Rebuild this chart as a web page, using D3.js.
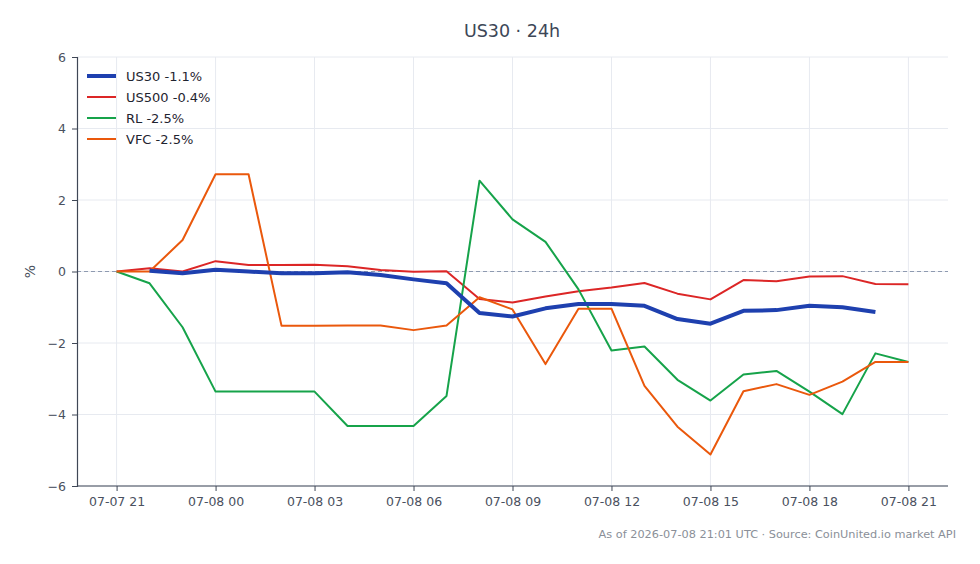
<!DOCTYPE html>
<html>
<head>
<meta charset="utf-8">
<script src="https://cdn.jsdelivr.net/npm/d3@7"></script>
<style>
  body { margin: 0; background: #fff; }
  svg { font-family: "DejaVu Sans", sans-serif; }
</style>
</head>
<body>
<div id="container"></div>
<script>
// hourly points, 07-07 21:00 .. 07-08 21:00 UTC
let startTime = Date.UTC(2026, 6, 7, 21);
let yTicks = [-6, -4, -2, 0, 2, 4, 6];
let names = ["US30", "US500", "RL", "VFC"];
let changes = ["-1.1%", "-0.4%", "-2.5%", "-2.5%"];
let colors = ["#1e40af", "#dc2626", "#16a34a", "#ea580c"];
let widths = [4, 2, 2, 2];

// US30 has no value at the first hour
let us30 = [null, 0.02, -0.05, 0.05, 0.0, -0.05, -0.05, -0.02, -0.1, -0.22, -0.33,
    -1.16, -1.26, -1.03, -0.91, -0.91, -0.96, -1.33, -1.46, -1.10, -1.08, -0.96, -1.0, -1.13];
let us500 = [0, 0.09, 0.0, 0.29, 0.18, 0.18, 0.19, 0.15, 0.04, -0.01, 0.01,
    -0.77, -0.87, -0.70, -0.55, -0.45, -0.32, -0.62, -0.78, -0.24, -0.27, -0.14, -0.13, -0.35, -0.36];
let rl = [0, -0.33, -1.56, -3.36, -3.36, -3.36, -3.36, -4.32, -4.32, -4.32, -3.48,
    2.54, 1.46, 0.83, -0.5, -2.21, -2.10, -3.03, -3.61, -2.88, -2.78, -3.36, -3.99, -2.29, -2.53];
let vfc = [0, 0.0, 0.88, 2.72, 2.72, -1.52, -1.52, -1.51, -1.51, -1.64, -1.51,
    -0.72, -1.06, -2.59, -1.04, -1.04, -3.20, -4.34, -5.12, -3.35, -3.15, -3.45, -3.08, -2.53, -2.53];
let seriesValues = [us30, us500, rl, vfc];

let width = 980, height = 564;
let margin = {left: 77, right: 32, top: 57, bottom: 78};

let svg = d3.select("#container")
    .append("svg")
    .attr("width", width)
    .attr("height", height);

let hour = 3600 * 1000;
let x = d3.scaleUtc()
    .domain([startTime - 1.2 * hour, startTime + 25.2 * hour])
    .range([margin.left, width - margin.right]);
let y = d3.scaleLinear()
    .domain([-6, 6])
    .range([height - margin.bottom, margin.top]);

let xTicks = d3.range(0, 25, 3).map(h => new Date(startTime + h * hour));
let fmt = d3.utcFormat("%m-%d %H");

// grid
svg.append("g")
    .selectAll("line.v")
    .data(xTicks)
    .enter()
    .append("line")
    .attr("x1", d => x(d)).attr("x2", d => x(d))
    .attr("y1", margin.top).attr("y2", height - margin.bottom)
    .attr("stroke", "#e7eaf0").attr("stroke-width", 1);
svg.append("g")
    .selectAll("line.h")
    .data(yTicks)
    .enter()
    .append("line")
    .attr("x1", margin.left).attr("x2", width - margin.right)
    .attr("y1", d => y(d)).attr("y2", d => y(d))
    .attr("stroke", "#e7eaf0").attr("stroke-width", 1);

// zero line
svg.append("line")
    .attr("x1", margin.left).attr("x2", width - margin.right)
    .attr("y1", y(0)).attr("y2", y(0))
    .attr("stroke", "#8e9ab0")
    .attr("stroke-width", 1)
    .attr("stroke-dasharray", "4,3");

// axes
let xAxis = svg.append("g")
    .attr("transform", "translate(0," + (height - margin.bottom) + ")")
    .call(d3.axisBottom(x).tickValues(xTicks).tickFormat(fmt).tickSizeOuter(0).tickSize(5).tickPadding(6));
let yAxis = svg.append("g")
    .attr("transform", "translate(" + margin.left + ",0)")
    .call(d3.axisLeft(y).tickValues(yTicks).tickFormat(d3.format("d")).tickSizeOuter(0).tickSize(5).tickPadding(6));
[xAxis, yAxis].forEach(a => {
    a.attr("font-family", "DejaVu Sans").attr("font-size", 12.5);
    a.select(".domain").attr("stroke", "#3f4756").attr("stroke-width", 1.2);
    a.selectAll(".tick line").attr("stroke", "#3f4756");
    a.selectAll(".tick text").attr("fill", "#4a5160");
});
xAxis.select(".domain").attr("d", "M" + margin.left + ",0H" + (width - margin.right));

// y label
svg.append("text")
    .attr("transform", "translate(35," + y(0) + ") rotate(-90)")
    .attr("text-anchor", "middle")
    .attr("fill", "#4a5160")
    .style("font-size", "14px")
    .text("%");

// lines, US30 drawn last so it sits on top
let line = d3.line()
    .defined(d => d != null)
    .x((d, i) => x(new Date(startTime + i * hour)))
    .y(d => y(d));
[1, 2, 3, 0].forEach(k => {
    svg.append("path")
        .datum(seriesValues[k])
        .attr("fill", "none")
        .attr("stroke", colors[k])
        .attr("stroke-width", widths[k])
        .attr("stroke-linejoin", "round")
        .attr("d", line);
});

// legend
let legend = svg.append("g")
    .attr("transform", "translate(87,76)")
    .selectAll("g")
    .data(names)
    .enter()
    .append("g")
    .attr("transform", (_, i) => "translate(0," + i * 21 + ")");
legend.append("line")
    .attr("x1", 0).attr("x2", 29)
    .attr("stroke", (_, i) => colors[i])
    .attr("stroke-width", (_, i) => widths[i]);
legend.append("text")
    .attr("x", 39)
    .attr("dy", "0.35em")
    .attr("fill", "#1f2430")
    .style("font-size", "13px")
    .text((d, i) => d + " " + changes[i]);

// title
svg.append("text")
    .attr("x", 512)
    .attr("y", 37)
    .attr("text-anchor", "middle")
    .attr("fill", "#3d4757")
    .style("font-size", "17.5px")
    .text("US30 · 24h");

// footer
svg.append("text")
    .attr("x", 956)
    .attr("y", 538)
    .attr("text-anchor", "end")
    .attr("fill", "#8a8f98")
    .style("font-size", "11.3px")
    .text("As of 2026-07-08 21:01 UTC · Source: CoinUnited.io market API");
</script>
</body>
</html>
